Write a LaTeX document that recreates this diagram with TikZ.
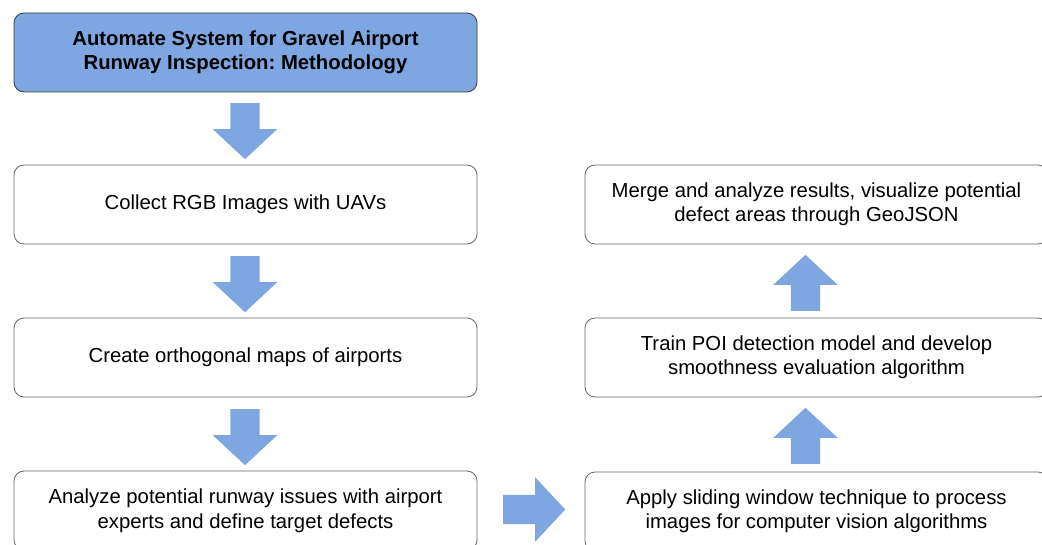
\documentclass[tikz,border=0pt]{standalone}
\usepackage{fontspec}
\setmainfont{Liberation Sans}
\frenchspacing
\usetikzlibrary{shapes.arrows}
\definecolor{stepblue}{HTML}{7EA6E0}
\definecolor{edgegray}{HTML}{666666}
\definecolor{titleedge}{HTML}{3C3C3C}
\begin{document}
\begin{tikzpicture}[x=1pt, y=-1pt,
  stage/.style={draw=edgegray, line width=0.8pt, rounded corners=10pt,
    minimum width=463pt, minimum height=79pt, inner sep=0pt, align=center,
    font=\fontsize{20.3}{24.5}\selectfont},
  titlestage/.style={stage, fill=stepblue, draw=titleedge, font=\bfseries\fontsize{20.3}{24.5}\selectfont},
  blockarrow/.style={single arrow, fill=stepblue, draw=none, inner xsep=0pt,
    inner ysep=14.5pt, minimum height=56pt, single arrow head extend=17.5pt,
    single arrow tip angle=94, anchor=tail},
]
\path[use as bounding box] (0,0) rectangle (1042,545);
\clip (0,0) rectangle (1042,545);

% left column
\node[titlestage] (title) at (245.5,52.5) {Automate System for Gravel Airport\\Runway Inspection: Methodology};
\node[stage] (collect) at (245.5,204.5) {Collect RGB Images with UAVs};
\node[stage] (maps) at (245.5,357.5) {Create orthogonal maps of airports};
\node[stage] (issues) at (245.5,510.5) {Analyze potential runway issues with airport\\experts and define target defects};

% right column
\node[stage] (window) at (816.5,511.5) {Apply sliding window technique to process\\images for computer vision algorithms};
\node[stage] (train) at (816.5,357.5) {Train POI detection model and develop\\smoothness evaluation algorithm};
\node[stage] (merge) at (816.5,204.5) {Merge and analyze results, visualize potential\\defect areas through GeoJSON};

% block arrows between the stages (placed by their tails)
\node[blockarrow, rotate=-90] (a1) at (245,103) {};
\node[blockarrow, rotate=-90] (a2) at (245,256) {};
\node[blockarrow, rotate=-90] (a3) at (245,409) {};
\node[blockarrow, minimum height=62pt] (a4) at (503,509.5) {};
\node[blockarrow, rotate=90] (a5) at (805.5,464) {};
\node[blockarrow, rotate=90] (a6) at (805.5,311) {};
\end{tikzpicture}
\end{document}
